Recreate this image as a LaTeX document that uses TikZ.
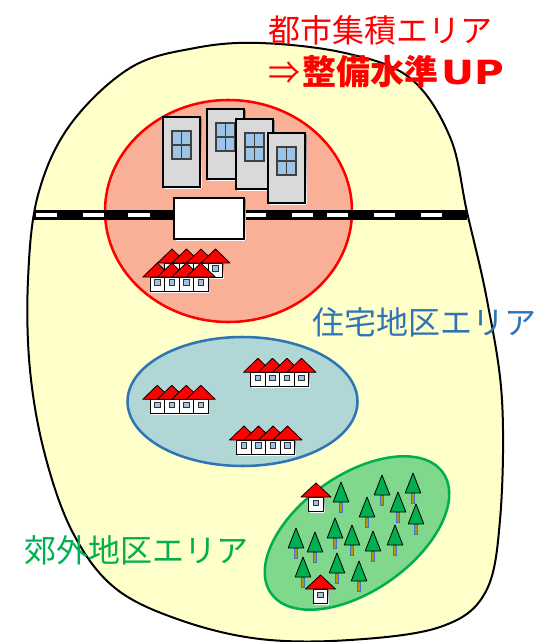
\documentclass[tikz,border=0pt]{standalone}
\usepackage{fontspec}
\newfontfamily\cjk{Noto Sans CJK JP}
\newfontfamily\latinbold[FakeStretch=1.22]{DejaVu Sans Bold}
\definecolor{blobfill}{RGB}{255,255,201}
\definecolor{cityfill}{RGB}{249,176,150}
\definecolor{resfill}{RGB}{176,214,214}
\definecolor{resline}{RGB}{46,117,182}
\definecolor{subfill}{RGB}{128,216,140}
\definecolor{subline}{RGB}{0,176,80}
\definecolor{treegreen}{RGB}{0,176,80}
\definecolor{trunkfill}{RGB}{191,144,0}
\definecolor{trunkline}{RGB}{68,114,196}
\definecolor{winblue}{RGB}{157,195,230}
\definecolor{bldgray}{RGB}{217,217,217}
\definecolor{roofred}{RGB}{255,0,0}
\definecolor{shade}{RGB}{140,140,140}
\begin{document}
\begin{tikzpicture}[x=0.75pt,y=-0.75pt,
  label/.style={inner sep=0pt,anchor=west,font=\cjk\fontsize{24pt}{28pt}\selectfont},
  houseunit/.pic={
    \fill[shade] (-6.25,1) rectangle (8.25,15);
    \draw[fill=white,line width=0.6pt] (-7.25,0) rectangle (7.25,14);
    \draw[fill=winblue,draw=black!80,line width=0.5pt] (-2.7,2.6) rectangle (2.7,8);
    \draw[fill=roofred,line width=0.6pt,line join=round] (-14.5,0) -- (0,-14) -- (14.5,0) -- cycle;
  },
  cottage/.pic={
    \fill[shade] (-6.25,1) rectangle (8.25,15);
    \draw[fill=white,line width=0.6pt] (-7.25,0) rectangle (7.25,14);
    \draw[fill=winblue,draw=black!80,line width=0.5pt] (-2.7,3) rectangle (2.7,8.4);
    \draw[fill=roofred,line width=0.6pt,line join=round] (-15,0) -- (0,-14) -- (15,0) -- cycle;
  },
  tree/.pic={
    \draw[fill=trunkfill,draw=trunkline,line width=0.5pt] (-1.6,20) rectangle (1.6,30);
    \draw[fill=treegreen,line width=0.6pt,line join=round] (0,0) -- (7.8,20) -- (-7.8,20) -- cycle;
  },
  building/.pic={
    \fill[shade] (1.5,1.5) rectangle (38.5,71.5);
    \draw[fill=bldgray,line width=1.9pt] (0,0) rectangle (37,70);
    \draw[fill=winblue,draw=black!75,line width=0.9pt] (9,14) rectangle (28,42);
    \draw[black!75,line width=0.9pt] (18.5,14) -- (18.5,42) (9,28) -- (28,28);
  }]
\useasboundingbox (0,0) rectangle (540,642);

% whole region
\draw[fill=blobfill,line width=1.5pt] plot[smooth cycle,tension=0.6] coordinates {
  (260,43) (345,53) (410,78) (450,137) (467,212) (487,300) (502,400)
  (500,520) (485,593) (440,627) (350,640) (260,639) (180,620) (115,588)
  (73,533) (45,455) (30,370) (28,280) (38,195) (70,125) (130,68) (195,48)};

% city core
\draw[fill=cityfill,draw=red,line width=1.9pt] (228.5,211) ellipse (123.5 and 111);

% railway
\fill[black] (34,210) rectangle (467,219.5);
\foreach \a/\b in {36/57,83/104,128/150,245/266,292/313,327/348,374/395,421/442}
  \fill[white] (\a,213.3) rectangle (\b,216.6);

% buildings and station
\pic at (163,117) {building};
\pic at (207,109) {building};
\pic at (236,119) {building};
\pic at (268,133) {building};
\fill[shade] (175.5,199.5) rectangle (245.5,240.5);
\draw[fill=white,line width=1.5pt] (174,198) rectangle (244,239);

% houses in the core
\foreach \i in {0,...,3} \pic at (172+14.5*\i,263) {houseunit};
\foreach \i in {0,...,3} \pic at (157.3+14.5*\i,277) {houseunit};

% residential district
\draw[fill=resfill,draw=resline,line width=1.9pt] (242.5,401.5) ellipse (115 and 64.5);
\foreach \i in {0,...,3} \pic at (258+14.5*\i,372.3) {houseunit};
\foreach \i in {0,...,3} \pic at (157.3+14.5*\i,399.3) {houseunit};
\foreach \i in {0,...,3} \pic at (244+14.5*\i,440) {houseunit};

% suburban district
\draw[fill=subfill,draw=subline,line width=1.9pt,rotate around={35:(357,533)}] (357,533) ellipse (105 and 58);
\foreach \p in {(413,473),(382,475),(341,482),(398,492),(367,497)} \pic at \p {tree};
\pic at (316,497) {cottage};
\foreach \p in {(416,504),(335,518),(352,525),(395,525),(296,528),(373,531),(315,532),(337,553),(303,557),(359,561)} \pic at \p {tree};
\pic at (320.5,589) {cottage};

% labels
\node[label,text=red] (cityname) at (268,30) {都市集積エリア};
\node[label,text=red] (citygoal) at (268,72)
  {⇒\kern1.5pt{\fontsize{25.5pt}{28pt}\selectfont\bfseries 整備水準}\kern2.5pt{\latinbold\fontsize{25pt}{28pt}\selectfont UP}};
\node[label,text=resline] (resname) at (312,322) {住宅地区エリア};
\node[label,text=subline] (subname) at (24,550) {郊外地区エリア};
\end{tikzpicture}
\end{document}
